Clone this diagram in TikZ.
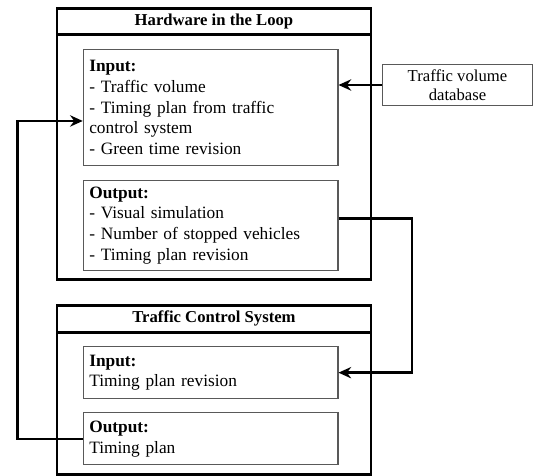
\documentclass[tikz,border=0pt]{standalone}
\usepackage{fontspec}
\setmainfont{Liberation Serif}
\usepackage{tikz}
\usetikzlibrary{arrows.meta, positioning, calc}
\tikzstyle{arrow} = [line width=1.9pt,-{Stealth[length=9.5pt,width=8.5pt]}]

\begin{document}
\begin{tikzpicture}[x=0.75pt, y=-0.75pt,
    every node/.style={font=\fontsize{13}{15.5}\selectfont},
    outerbox/.style={rectangle, draw=black, line width=2.2pt, minimum width=235.5pt},
    titlebox/.style={rectangle, draw=black, line width=2.2pt, minimum width=235.5pt, minimum height=20pt, font=\fontsize{12.5}{14}\selectfont\bfseries},
    innerbox/.style={rectangle, draw=black!65, line width=0.8pt, minimum width=191pt, text width=182pt, inner xsep=4.5pt, align=left}]
    \useasboundingbox (0,0) rectangle (534,475);

    % Hardware box
    \node (hil) [outerbox, minimum height=203.7pt, anchor=north west] at (55.5,6.7) {};
    \node (hiltitle) [titlebox, anchor=north] at (hil.north) {Hardware in the Loop};
    \node (hilin) [innerbox, minimum height=87.2pt, below=9.5pt of hiltitle, xshift=-2.5pt] {
        \textbf{Input:}\\
        - Traffic volume\\
        - Timing plan from traffic\\
        control system\\
        - Green time revision
    };
    \node (hilout) [innerbox, minimum height=67.5pt, below=10pt of hilin] {
        \textbf{Output:}\\
        - Visual simulation\\
        - Number of stopped vehicles\\
        - Timing plan revision
    };

    % Database box
    \node (db) [rectangle, draw=black!65, line width=0.8pt, minimum width=112.5pt, minimum height=29pt, align=center, anchor=east, font=\fontsize{12.5}{14.5}\selectfont] at (533,85) {Traffic volume\\database};

    % Traffic control box
    \node (tcs) [outerbox, minimum height=127pt, anchor=north west] at (55.5,304) {};
    \node (tcstitle) [titlebox, anchor=north] at (tcs.north) {Traffic Control System};
    \node (tcsin) [innerbox, minimum height=38.8pt, below=9.5pt of tcstitle, xshift=-2.5pt] {
        \textbf{Input:}\\
        Timing plan revision
    };
    \node (tcsout) [innerbox, minimum height=38.8pt, below=10pt of tcsin] {
        \textbf{Output:}\\
        Timing plan
    };

    % Arrows
    \draw [arrow] (db.west) -- (db.west -| hilin.east);
    \draw [arrow] ([yshift=5pt]hilout.east) -- ++(55pt,0) |- (tcsin.east);
    \draw [arrow] (tcsout.west) -- ++(-49pt,0) |- ([yshift=-10pt]hilin.west);
\end{tikzpicture}
\end{document}
